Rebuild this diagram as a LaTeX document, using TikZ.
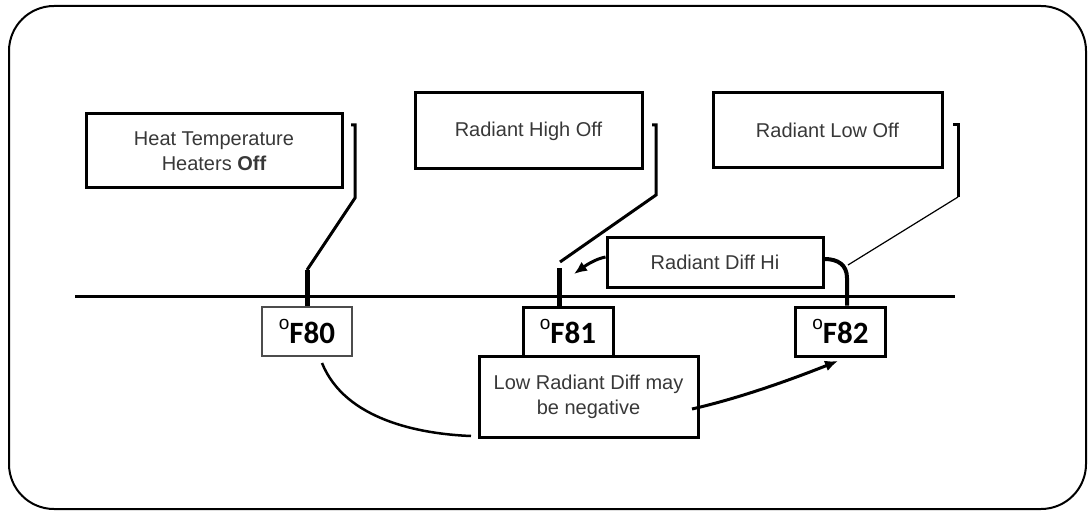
\documentclass[tikz,border=0pt]{standalone}
\usepackage{fontspec}
\setmainfont{Liberation Sans}
\newfontfamily\calfont{Carlito}
\usetikzlibrary{arrows.meta}
\begin{document}
\begin{tikzpicture}[x=1pt,y=-1pt,
  lbl/.style={draw, line width=3pt, inner sep=0pt, align=center, text=black!78,
    font=\fontsize{20}{25}\selectfont},
  tbox/.style={draw, line width=3pt, inner sep=0pt, minimum width=90pt, minimum height=49pt,
    font=\calfont\bfseries\fontsize{31}{31}\selectfont},
  conn/.style={line width=3pt, line join=miter},
  tickln/.style={line width=5pt},
  thinln/.style={line width=1.2pt},
  arr/.style={line width=3pt, -{Latex[length=13pt,width=11pt]}}]
\newcommand{\degF}[1]{\raisebox{0.42em}{\rmfamily\mdseries\fontsize{19}{19}\selectfont o}#1}
\useasboundingbox (0,0) rectangle (1089,513);
\draw[line width=2pt, rounded corners=45pt] (9,6) rectangle (1086,509);

% axis
\coordinate (axL) at (75,296);
\coordinate (axR) at (955,296);
\draw[line width=3pt] (axL) -- (axR);

% label boxes
\node[lbl, minimum width=256pt, minimum height=74pt] (heat) at (214,151) {Heat Temperature\\Heaters \textbf{Off}};
\node[lbl, minimum width=227pt, minimum height=76pt] (rhigh) at (528.5,131) {Radiant High Off};
\node[lbl, minimum width=229pt, minimum height=75pt] (rlow) at (827.5,130.5) {Radiant Low Off};
\node[lbl, minimum width=216pt, minimum height=50pt] (diffhi) at (715,262) {Radiant Diff Hi};

% temperature boxes
\node[tbox, draw=black!70, line width=1.5pt] (f80) at (307,331.5) {\degF{F80}};
\node[tbox] (f81) at (568,331.5) {\degF{F81}};
\node[tbox] (f82) at (840.5,331.5) {\degF{F82}};

\node[lbl, minimum width=219pt, minimum height=81pt] (lowdiff) at (588.5,396.5) {Low Radiant Diff may\\be negative};

% connector 1
\coordinate (c1a) at (351,125);
\coordinate (c1b) at (355,125);
\coordinate (c1c) at (355,198);
\coordinate (c1d) at (307,270);
\draw[conn] (c1a) -- (c1b) -- (c1c) -- (c1d);
\draw[tickln] (c1d) -- (f80.north);

% connector 2
\coordinate (c2a) at (652,125);
\coordinate (c2b) at (656,125);
\coordinate (c2c) at (656,195);
\coordinate (c2d) at (560,262);
\coordinate (c2e) at (559,268);
\draw[conn] (c2a) -- (c2b) -- (c2c) -- (c2d);
\draw[tickln] (c2e) -- (c2e |- f81.north);

% connector 3
\coordinate (c3a) at (953,125);
\coordinate (c3b) at (958,125);
\coordinate (c3c) at (958,197);
\coordinate (c3d) at (848,265);
\draw[conn] (c3a) -- (c3b) -- (c3c);
\draw[thinln] (c3c) -- (c3d);

% Radiant Diff Hi arrows
\coordinate (dhTip) at (574,274);
\draw[arr] (diffhi.west |- 0,257) .. controls (595,259) and (585,266) .. (dhTip);
\coordinate (dhR) at (847,278);
\draw[line width=4pt] (diffhi.east |- 0,259) .. controls (838,259) and (847,265) .. (dhR) -- (dhR |- f82.north);

% lower curves
\coordinate (f80s) at (322,363);
\coordinate (ldL) at (471,436);
\draw[line width=2.5pt] (f80s) .. controls (345,420) and (420,434) .. (ldL);
\coordinate (ldR) at (692,409);
\coordinate (f82t) at (838,361);
\draw[arr] (ldR) .. controls (740,398) and (790,380) .. (f82t);
\end{tikzpicture}
\end{document}
